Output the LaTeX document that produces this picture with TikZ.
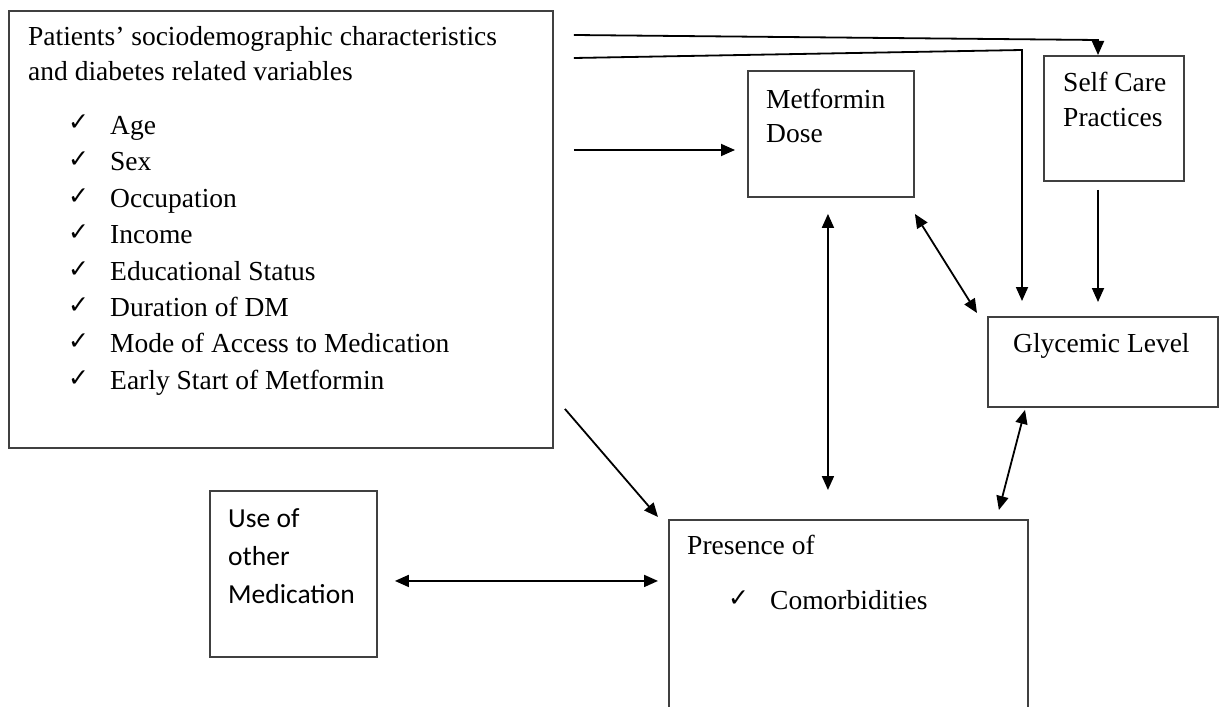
\documentclass[tikz,border=0pt]{standalone}
\usepackage{fontspec}
\setmainfont{Liberation Serif}
\newfontfamily\calfont{Carlito}
\newfontfamily\symfont{DejaVu Sans}
\usetikzlibrary{arrows.meta,calc}
\tikzset{
  box/.style={draw=black!75, line width=1.9pt, anchor=north west, inner sep=0pt},
  txt/.style={anchor=base west, inner sep=0pt, font=\fontsize{27.5}{30}\selectfont},
  sans/.style={anchor=base west, inner sep=0pt, font=\calfont\fontsize{27.5}{30}\selectfont},
  tick/.style={anchor=base west, inner sep=0pt, font=\symfont\bfseries\fontsize{25}{28}\selectfont},
  conn/.style={line width=1.8pt, black},
  arr/.style={conn, -{Triangle[length=14pt,width=12pt]}},
  dbl/.style={conn, {Triangle[length=14pt,width=12pt]}-{Triangle[length=14pt,width=12pt]}}
}
\begin{document}
\begin{tikzpicture}[x=1pt,y=-1pt]
\useasboundingbox (0,0) rectangle (1230,706);
\clip (0,0) rectangle (1230,706);
% boxes
\node[box, minimum width=544pt, minimum height=437pt] (main) at (8,10) {};
\node[box, minimum width=166pt, minimum height=126pt] (met) at (747,70) {};
\node[box, minimum width=140pt, minimum height=125pt] (self) at (1043,55) {};
\node[box, minimum width=230pt, minimum height=90pt] (gly) at (987,316) {};
\node[box, minimum width=359pt, minimum height=220pt] (pres) at (668,519) {};
\node[box, minimum width=167pt, minimum height=166pt] (use) at (209,490) {};
% texts
\node[txt] (t1) at (28,46) {Patients’ sociodemographic characteristics};
\node[txt] (t2) at (28,81) {and diabetes related variables};
\foreach \n/\yy/\s in {1/134/Age, 2/170/Sex, 3/207/Occupation, 4/243/Income,
  5/280/Educational Status, 6/316/Duration of DM, 7/352/Mode of Access to Medication,
  8/389/Early Start of Metformin}{
  \node[tick] (k\n) at (68,\yy-3) {✓};
  \node[txt] (i\n) at (110,\yy) {\s};
}
\node[txt] (m1) at (766,109) {Metformin};
\node[txt] (m2) at (766,142) {Dose};
\node[txt] (s1) at (1063,92) {Self Care};
\node[txt] (s2) at (1063,126) {Practices};
\node[txt] (g1) at (1013,352) {Glycemic Level};
\node[txt] (p1) at (687,554) {Presence of};
\node[tick] (pk) at (728,606) {✓};
\node[txt] (p2) at (770,609) {Comorbidities};
\node[sans] (u1) at (228,527) {Use of};
\node[sans] (u2) at (228,565) {other};
\node[sans] (u3) at (228,603) {Medication};
% connector points
\coordinate (c1) at ($(main.north east)+(20,25)$);
\coordinate (b1) at (1098,40);
\coordinate (c2) at ($(main.north east)+(20,48)$);
\coordinate (b2) at (1022,50);
\coordinate (c3) at ($(main.north east)+(20,140)$);
\coordinate (c9) at ($(use.east)+(17,7)$);
\coordinate (a6) at ($(met.south)+(-3,16)$);
% connectors
\draw[arr] (c1) -- (b1) -- (b1 |- self.north);
\draw[arr, shorten >=15pt] (c2) -- (b2) -- (b2 |- gly.north);
\draw[arr, shorten >=12pt] (c3) -- (c3 -| met.west);
\draw[arr, shorten <=8pt, shorten >=14pt] (b1 |- self.south) -- (b1 |- gly.north);
\draw[dbl] ($(met.south east)+(0,16)$) -- ($(gly.north west)+(-10,-3)$);
\draw[dbl, shorten >=29pt] (a6) -- (a6 |- pres.north);
\draw[dbl] ($(gly.south west)+(38,2)$) -- ($(pres.north east)+(-30,-9)$);
\draw[arr] ($(main.south east)+(11,-40)$) -- ($(pres.north west)+(-10,-2)$);
\draw[dbl, shorten >=10pt] (c9) -- (c9 -| pres.west);
\end{tikzpicture}
\end{document}
